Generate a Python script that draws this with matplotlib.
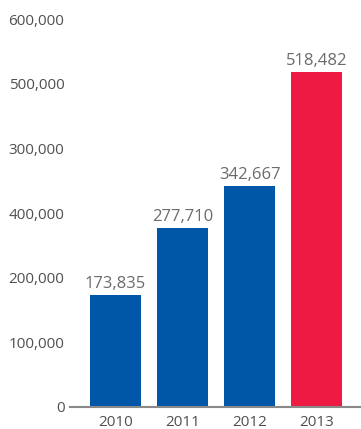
import matplotlib
matplotlib.use("Agg")
import matplotlib.pyplot as plt

years = ["2010", "2011", "2012", "2013"]
values = [173835, 277710, 342667, 518482]
value_labels = ["173,835", "277,710", "342,667", "518,482"]
colors = ["#0057A8", "#0057A8", "#0057A8", "#EE1A43"]
ytick_values = [0, 100000, 200000, 300000, 400000, 500000, 600000]
ytick_labels = ["0", "100,000", "200,000", "400,000", "300,000", "500,000", "600,000"]

plt.rcParams['font.family'] = ['Open Sans', 'DejaVu Sans']

W, H = 361, 429
fig = plt.figure(figsize=(W / 100, H / 100), dpi=100)
ax = fig.add_axes([70 / W, 22 / H, 291 / W, 387.6 / H])

x = list(range(len(years)))
ax.bar(x, values, width=0.76, color=colors)
ax.set_xlim(-0.68, 3.66)
ax.set_ylim(0, 600000)

for xi, v, lab in zip(x, values, value_labels):
    ax.annotate(lab, (xi, v), xytext=(0, 2), textcoords="offset points",
                ha="center", va="bottom", fontsize=12, color="#6b6b6b")

ax.set_xticks(x)
ax.set_xticklabels(years)
ax.set_yticks(ytick_values)
ax.set_yticklabels(ytick_labels)
ax.tick_params(axis="both", length=0, labelsize=11, colors="#505050")
ax.tick_params(axis="y", pad=4)
ax.tick_params(axis="x", pad=6)

for s in ["top", "right", "left"]:
    ax.spines[s].set_visible(False)
ax.spines["bottom"].set_color("#8a8a8a")
ax.spines["bottom"].set_linewidth(1.5)

fig.savefig("out.png", dpi=100)
